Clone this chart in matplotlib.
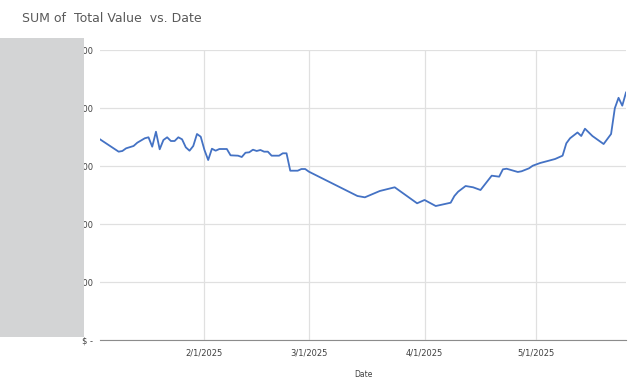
import matplotlib
matplotlib.use('Agg')
import matplotlib.pyplot as plt
import matplotlib.dates as mdates
from matplotlib.patches import Rectangle
from matplotlib.ticker import FuncFormatter
import pandas as pd

dates = ['2025-01-04', '2025-01-09', '2025-01-10', '2025-01-11', '2025-01-13', '2025-01-14',
         '2025-01-16', '2025-01-17', '2025-01-18', '2025-01-19', '2025-01-20', '2025-01-21',
         '2025-01-22', '2025-01-23', '2025-01-24', '2025-01-25', '2025-01-26', '2025-01-27',
         '2025-01-28', '2025-01-29', '2025-01-30', '2025-01-31', '2025-02-01', '2025-02-02',
         '2025-02-03', '2025-02-04', '2025-02-05', '2025-02-07', '2025-02-08', '2025-02-10',
         '2025-02-11', '2025-02-12', '2025-02-13', '2025-02-14', '2025-02-15', '2025-02-16',
         '2025-02-17', '2025-02-18', '2025-02-19', '2025-02-21', '2025-02-22', '2025-02-23',
         '2025-02-24', '2025-02-26', '2025-02-27', '2025-02-28', '2025-03-01', '2025-03-14',
         '2025-03-16', '2025-03-20', '2025-03-24', '2025-03-30', '2025-04-01', '2025-04-04',
         '2025-04-08', '2025-04-09', '2025-04-10', '2025-04-12', '2025-04-14', '2025-04-16',
         '2025-04-19', '2025-04-21', '2025-04-22', '2025-04-23', '2025-04-26', '2025-04-27',
         '2025-04-29', '2025-04-30', '2025-05-02', '2025-05-04', '2025-05-06', '2025-05-08',
         '2025-05-09', '2025-05-10', '2025-05-12', '2025-05-13', '2025-05-14', '2025-05-16',
         '2025-05-19', '2025-05-21', '2025-05-22', '2025-05-23', '2025-05-24', '2025-05-25']
total_value = [34600, 32470, 32590, 33050, 33450, 34020,
               34780, 34950, 33330, 35910, 32880, 34480,
               34950, 34310, 34310, 34950, 34600, 33220,
               32640, 33450, 35520, 35050, 32760, 31030,
               32980, 32640, 32930, 32930, 31840, 31780,
               31550, 32290, 32360, 32810, 32590, 32760,
               32470, 32470, 31780, 31780, 32190, 32190,
               29190, 29190, 29480, 29480, 29020, 24830,
               24600, 25690, 26330, 23570, 24140, 23100,
               23670, 24830, 25570, 26550, 26330, 25860,
               28330, 28160, 29430, 29530, 28970, 29090,
               29600, 30050, 30520, 30860, 31210, 31780,
               33910, 34780, 35780, 35170, 36430, 35170,
               33790, 35520, 39950, 41760, 40400, 42670]
y_ticks = [0, 10000, 20000, 30000, 40000, 50000]
x_ticks = ['2025-02-01', '2025-03-01', '2025-04-01', '2025-05-01']

def money(v, pos):
    if v == 0:
        return '$ -'
    return '$ {:,.2f}'.format(v)

def main():
    d = pd.to_datetime(dates)
    fig = plt.figure(figsize=(6.44, 3.87), dpi=100)
    ax = fig.add_axes([100/644, 47/387, 526/644, 290/387])

    ax.plot(d, total_value, color='#4472C4', lw=1.3, zorder=3)

    ax.set_xlim(d[0], d[-1])
    ax.set_ylim(0, 50000)
    ax.set_yticks(y_ticks)
    ax.yaxis.set_major_formatter(FuncFormatter(money))
    ax.set_xticks(pd.to_datetime(x_ticks))
    ax.xaxis.set_major_formatter(FuncFormatter(
        lambda v, p: '{d.month}/{d.day}/{d.year}'.format(d=mdates.num2date(v))))

    ax.grid(True, color='#e0e0e0', lw=0.9)
    for s in ['top', 'right', 'left']:
        ax.spines[s].set_visible(False)
    ax.spines['bottom'].set_color('#8c8c8c')
    ax.tick_params(length=0, labelsize=6, labelcolor='#404040', pad=5)
    ax.tick_params(axis='x', pad=6)

    ax.set_xlabel('Date', fontsize=5.5, color='#404040', labelpad=9)
    fig.text(22/644, 1 - 18/387, 'SUM of  Total Value  vs. Date', fontsize=9,
             color='#595959', va='center', ha='left')

    # grey block over the value labels
    fig.add_artist(Rectangle((0, 50/387), 84/644, 299/387, transform=fig.transFigure,
                             facecolor='#d3d4d5', edgecolor='none', zorder=10))

    fig.savefig('out.png', dpi=100)

if __name__ == '__main__':
    main()
